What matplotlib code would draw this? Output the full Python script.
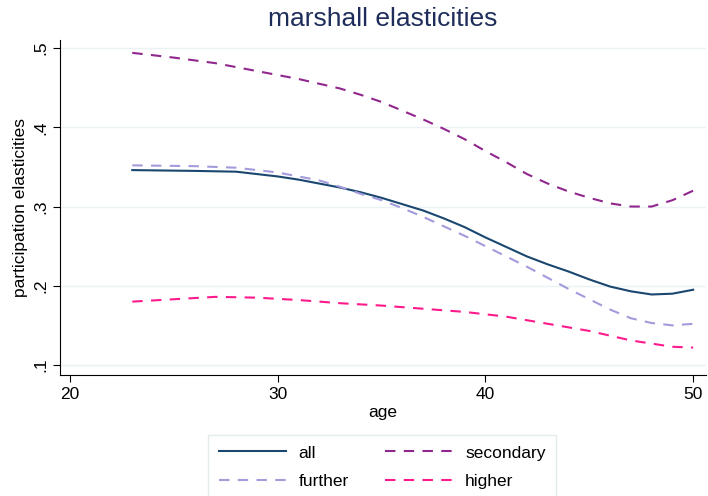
import matplotlib
matplotlib.use("Agg")
import matplotlib.pyplot as plt

plt.rcParams["font.family"] = ["Liberation Sans", "DejaVu Sans"]

age_all = [23, 26, 28, 30, 31, 32, 33, 34, 35, 36, 37, 38, 39, 40, 41, 42, 43, 44, 45, 46, 47, 48, 49, 50]
all_vals = [0.346, 0.345, 0.344, 0.338, 0.334, 0.329, 0.324, 0.318, 0.311, 0.303, 0.295, 0.285, 0.274,
            0.261, 0.249, 0.237, 0.227, 0.218, 0.208, 0.199, 0.193, 0.189, 0.190, 0.195]

age_further = [23, 26, 28, 30, 31, 32, 33, 34, 35, 36, 37, 38, 39, 40, 41, 42, 43, 44, 45, 46, 47, 48, 49, 50]
further_vals = [0.352, 0.351, 0.349, 0.343, 0.338, 0.333, 0.325, 0.316, 0.308, 0.298, 0.287, 0.275, 0.263,
                0.250, 0.237, 0.224, 0.210, 0.196, 0.183, 0.170, 0.159, 0.153, 0.150, 0.152]

age_secondary = [23, 25, 27, 29, 31, 33, 34, 35, 36, 37, 38, 39, 40, 41, 42, 43, 44, 45, 46, 47, 48, 49, 50]
secondary_vals = [0.494, 0.488, 0.481, 0.471, 0.461, 0.449, 0.441, 0.432, 0.421, 0.410, 0.398, 0.385, 0.370,
                  0.356, 0.341, 0.329, 0.319, 0.311, 0.304, 0.300, 0.300, 0.308, 0.320]

age_higher = [23, 25, 27, 29, 31, 33, 35, 37, 39, 41, 43, 45, 47, 48, 49, 50]
higher_vals = [0.180, 0.183, 0.186, 0.185, 0.182, 0.178, 0.175, 0.171, 0.167, 0.161, 0.152, 0.143, 0.131, 0.127, 0.123, 0.122]

xticks = [20, 30, 40, 50]
yticks = [0.1, 0.2, 0.3, 0.4, 0.5]
ytick_labels = [".1", ".2", ".3", ".4", ".5"]

fig = plt.figure(figsize=(7.08, 4.96), dpi=100)
ax = fig.add_axes([0.0847, 0.244, 0.912, 0.675])

dash = (0, (5, 4))
ax.plot(age_all, all_vals, color="#1a476f", lw=1.5, label="all")
ax.plot(age_further, further_vals, color="#a29bdc", lw=1.5, ls=dash, label="further")
ax.plot(age_secondary, secondary_vals, color="#90278e", lw=1.5, ls=dash, label="secondary")
ax.plot(age_higher, higher_vals, color="#ff1a8c", lw=1.5, ls=dash, label="higher")

ax.set_xlim(19.52, 50.6)
ax.set_ylim(0.0874, 0.51)
ax.set_xticks(xticks)
ax.set_yticks(yticks)
ax.set_yticklabels(ytick_labels, rotation=90, va="center")
ax.tick_params(labelsize=12.5, direction="out", length=5)
for s in ["top", "right"]:
    ax.spines[s].set_visible(False)
ax.grid(axis="y", color="#eaf2f3", lw=1)
ax.set_axisbelow(True)

ax.set_xlabel("age", fontsize=12.5, labelpad=2)
ax.set_ylabel("participation elasticities", fontsize=12.5, labelpad=4)
ax.set_title("marshall elasticities", fontsize=19, color="#1e2d5a", pad=10)

leg = fig.legend(ncol=2, loc="upper left", bbox_to_anchor=(0.294, 0.123), fontsize=12.5,
                 frameon=True, fancybox=False, edgecolor="#dde6e8",
                 handlelength=3.9, handletextpad=0.7, columnspacing=2.1,
                 labelspacing=0.75, borderpad=0.6, borderaxespad=0)
fig.savefig("out.png", dpi=100)
